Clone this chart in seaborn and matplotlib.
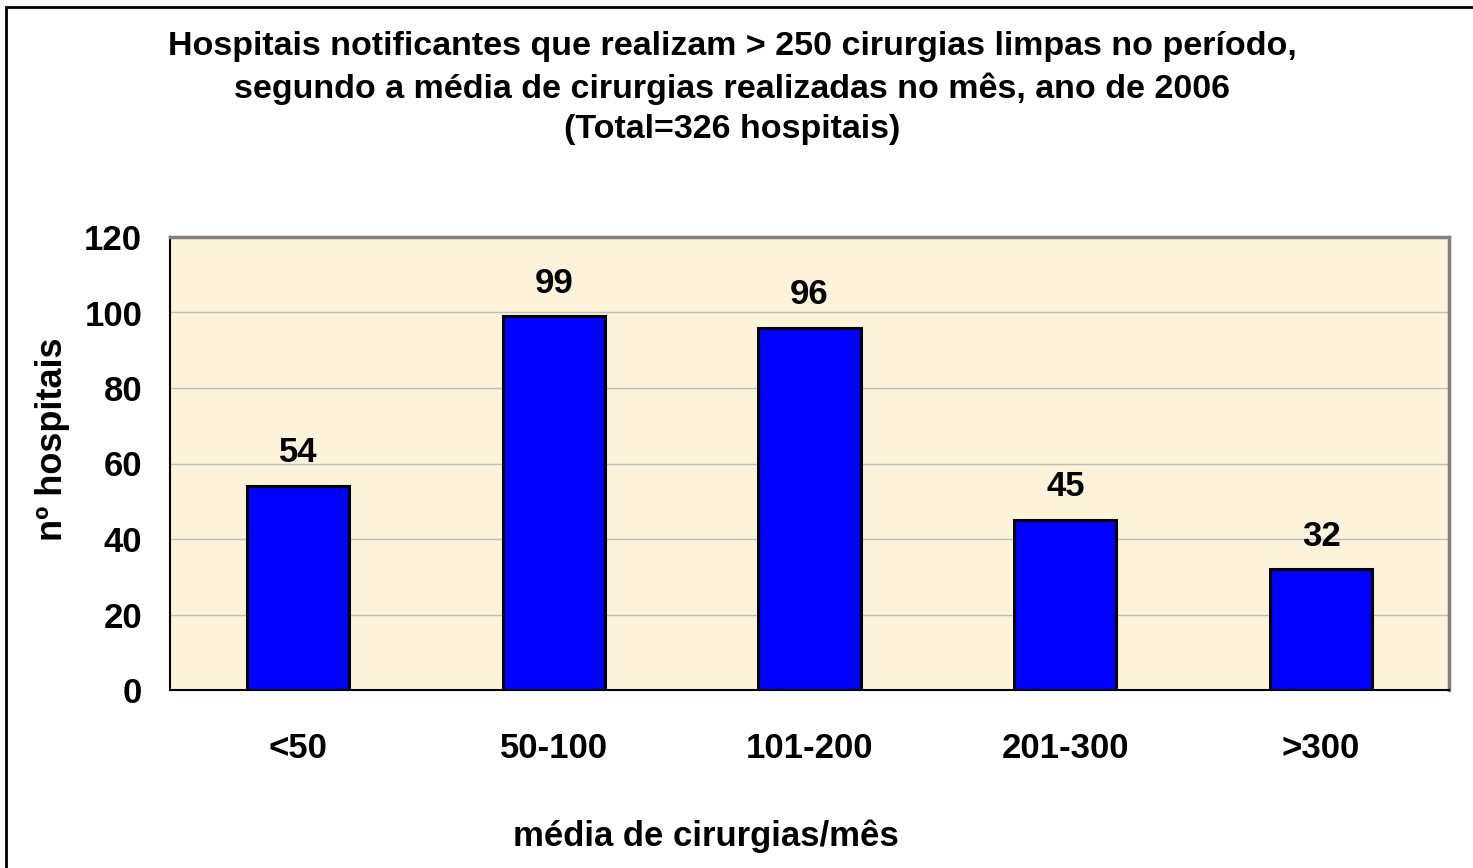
import numpy as np
import pandas as pd
import seaborn as sns
import matplotlib.pyplot as plt
from matplotlib.patches import Rectangle

categories = ["<50", "50-100", "101-200", "201-300", ">300"]
n_hospitais = [54, 99, 96, 45, 32]
yticks = [0, 20, 40, 60, 80, 100, 120]

title = ("Hospitais notificantes que realizam > 250 cirurgias limpas no período,\n"
         "segundo a média de cirurgias realizadas no mês, ano de 2006\n"
         "(Total=326 hospitais)")

sns.set_style("white")
plt.rcParams["font.family"] = ["Liberation Sans", "DejaVu Sans"]
plt.rcParams["font.weight"] = "bold"
plt.rcParams["text.color"] = "black"
plt.rcParams["axes.labelcolor"] = "black"
plt.rcParams["xtick.color"] = "black"
plt.rcParams["ytick.color"] = "black"

df = pd.DataFrame({"faixa": categories, "n": n_hospitais})

W, H = 1473, 868
L, R, T, B = 170, 1449, 237, 690  # plot area in pixels

fig = plt.figure(figsize=(W / 100, H / 100), dpi=100)
ax = fig.add_axes([L / W, 1 - B / H, (R - L) / W, (B - T) / H])
ax.set_facecolor("#FDF3DA")

sns.barplot(data=df, x="faixa", y="n", color="#0000FF", edgecolor="black",
            linewidth=2.2, width=0.4, saturation=1, ax=ax, zorder=3)

ax.set_ylim(0, 120)
ax.set_xlim(-0.5, len(categories) - 0.5)
ax.set_yticks(yticks)
ax.yaxis.grid(True, color="#BDBDBD", linewidth=1, zorder=0)
ax.set_axisbelow(True)

# tick marks between categories, labels centred under bars
ax.set_xticks(np.arange(len(categories)))
ax.set_xticklabels(categories)
ax.set_xticks(np.arange(len(categories) + 1) - 0.5, minor=True)
ax.tick_params(axis="x", which="major", length=0, pad=30, labelsize=25)
ax.tick_params(axis="x", which="minor", length=9, width=1, direction="out", color="black")
ax.tick_params(axis="y", length=9, width=1, direction="out", color="black", labelsize=25, pad=11)
for lab in ax.get_xticklabels() + ax.get_yticklabels():
    lab.set_fontweight("bold")

for side in ["left", "bottom"]:
    ax.spines[side].set_color("black")
    ax.spines[side].set_linewidth(1.5)
for side in ["top", "right"]:
    ax.spines[side].set_color("#808080")
    ax.spines[side].set_linewidth(2.5)

for i, v in enumerate(n_hospitais):
    ax.annotate(str(v), (i, v), xytext=(0, 12), textcoords="offset points",
                ha="center", va="bottom", fontsize=25, fontweight="bold")

ax.set_xlabel("média de cirurgias/mês", fontsize=25, fontweight="bold")
ax.xaxis.set_label_coords((513 - L) / (R - L), -(846 - B) / (B - T))
ax.xaxis.label.set_ha("left")
ax.xaxis.label.set_va("baseline")
ax.set_ylabel("nº hospitais", fontsize=26, fontweight="bold")
ax.yaxis.set_label_coords(-(L - 52) / (R - L), (B - 439) / (B - T))
ax.yaxis.label.set_va("center")

fig.text(0.497, 1 - 88 / H, title, ha="center", va="center", fontsize=24.5,
         fontweight="bold", linespacing=1.4)

# outer chart frame
fig.patches.append(Rectangle((6 / W, -0.05), 1.1, 1 - 7 / H + 0.05,
                             transform=fig.transFigure, fill=False,
                             edgecolor="black", linewidth=2))

plt.savefig("out.png", dpi=100)
plt.close()
